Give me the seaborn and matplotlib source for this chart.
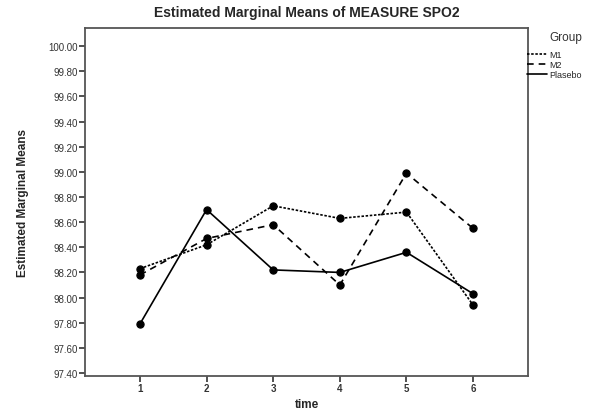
import pandas as pd
import seaborn as sns
import matplotlib.pyplot as plt
from matplotlib.lines import Line2D

time = [1, 2, 3, 4, 5, 6]
groups = ['M1', 'M2', 'Plasebo']
m1 = [98.23, 98.42, 98.73, 98.63, 98.68, 97.94]
m2 = [98.18, 98.47, 98.58, 98.10, 98.99, 98.55]
plasebo = [97.79, 98.70, 98.22, 98.20, 98.36, 98.03]
yticks = [97.40, 97.60, 97.80, 98.00, 98.20, 98.40, 98.60, 98.80,
          99.00, 99.20, 99.40, 99.60, 99.80, 100.00]

df = pd.DataFrame({
    'time': time * 3,
    'mean': m1 + m2 + plasebo,
    'Group': [g for g in groups for _ in time],
})

sns.set_style('white')
plt.rcParams['font.family'] = ['Liberation Sans', 'DejaVu Sans']

fig = plt.figure(figsize=(6.07, 4.14), dpi=100)
ax = fig.add_axes([0.140, 0.0894, 0.730, 0.840])

line_dashes = {'M1': (1.5, 1.0), 'M2': (4.0, 3.0), 'Plasebo': ''}
sns.lineplot(data=df, x='time', y='mean', style='Group', color='black',
             dashes=line_dashes, markers={'M1': 'o', 'M2': 'o', 'Plasebo': 'o'},
             markersize=5.2, markeredgecolor='black', markeredgewidth=0.8,
             linewidth=1.2, legend=False, ax=ax)

ax.set_xlim(0.175, 6.825)
ax.set_ylim(97.376, 100.143)
ax.set_xticks(time)
ax.set_yticks(yticks)
ax.set_yticklabels([f'{v:.2f}' for v in yticks], fontsize=7, color='#333333')
ax.set_xticklabels([str(t) for t in time], fontsize=7, fontweight='bold', color='#333333')
ax.tick_params(axis='both', direction='out', length=4, width=1.2, color='#333333', pad=1)
ax.tick_params(axis='x', bottom=True)
ax.tick_params(axis='y', left=True)
for s in ax.spines.values():
    s.set_color('#555555')
    s.set_linewidth(1.3)

ax.set_xlabel('time', fontsize=8.5, fontweight='bold', labelpad=4)
ax.set_ylabel('Estimated Marginal Means', fontsize=8.5, fontweight='bold', labelpad=14)
ax.set_title('Estimated Marginal Means of MEASURE SPO2', fontsize=10, fontweight='bold', pad=9)

# legend outside on the right, title as separate text
handles = [Line2D([], [], color='black', lw=1.2, dashes=line_dashes['M1']),
           Line2D([], [], color='black', lw=1.2, dashes=line_dashes['M2']),
           Line2D([], [], color='black', lw=1.2)]
ax.legend(handles, groups, frameon=False, fontsize=6.5,
          loc='upper left', bbox_to_anchor=(0.998, 0.936),
          handlelength=2.2, handletextpad=0.2, labelspacing=0.1,
          borderaxespad=0.0, borderpad=0.0)
fig.text(0.932, 0.908, 'Group', fontsize=8.5, ha='center', va='center', color='#333333')

fig.savefig('out.png', dpi=100)
